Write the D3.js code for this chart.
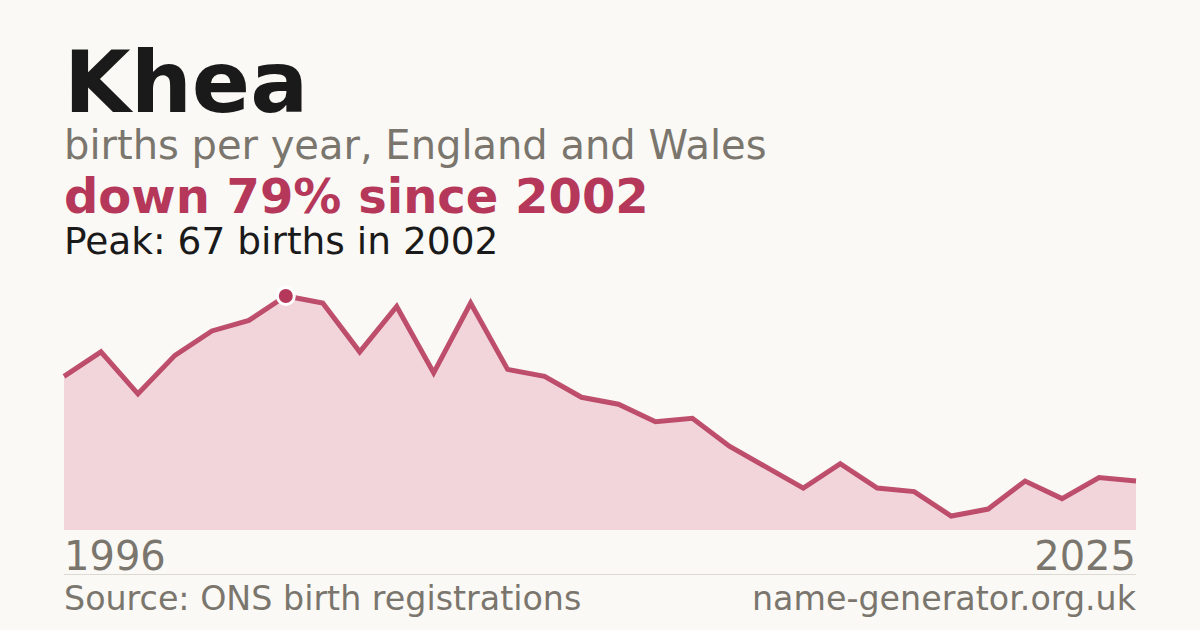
<!DOCTYPE html>
<html><head><meta charset="utf-8">
<script src="https://cdn.jsdelivr.net/npm/d3@7"></script>
<style>html,body{margin:0;padding:0;background:#faf9f5;}svg{display:block;}</style>
</head><body>
<script>
const years = [1996,1997,1998,1999,2000,2001,2002,2003,2004,2005,2006,2007,2008,2009,2010,2011,2012,2013,2014,2015,2016,2017,2018,2019,2020,2021,2022,2023,2024,2025];
const births = [44,51,39,50,57,60,67,65,51,64,45,65,46,44,38,36,31,32,24,18,12,19,12,11,4,6,14,9,15,14];
const titleText = "Khea";
const subtitleText = "births per year, England and Wales";
const changeText = "down 79% since 2002";
const peakText = "Peak: 67 births in 2002";
const sourceText = "Source: ONS birth registrations";
const siteText = "name-generator.org.uk";

const W = 1200, H = 630;
const font = "DejaVu Sans, sans-serif";
const svg = d3.select("body").append("svg").attr("width", W).attr("height", H);
svg.append("rect").attr("width", W).attr("height", H).attr("fill", "#faf9f5");

const data = years.map((y,i)=>({year:y, v:births[i]}));
const x = d3.scaleLinear().domain([years[0], years[years.length-1]]).range([64, 1136]);
const y = d3.scaleLinear().domain([0, d3.max(births)]).range([530, 296]);

svg.append("path").datum(data)
  .attr("d", d3.area().x(d=>x(d.year)).y0(y(0)).y1(d=>y(d.v)))
  .attr("fill", "#f2d5da");
svg.append("path").datum(data)
  .attr("d", d3.line().x(d=>x(d.year)).y(d=>y(d.v)))
  .attr("fill", "none").attr("stroke", "#b5385a").attr("stroke-width", 5)
  .attr("stroke-opacity", 0.88).attr("stroke-linejoin", "miter");

const peak = data.reduce((a,b)=>b.v>a.v?b:a);
svg.append("circle").attr("cx", x(peak.year)).attr("cy", y(peak.v)).attr("r", 10).attr("fill", "#ffffff");
svg.append("circle").attr("cx", x(peak.year)).attr("cy", y(peak.v)).attr("r", 7).attr("fill", "#b5385a");

svg.append("text").attr("x", 64).attr("y", 112).attr("font-family", font).attr("font-weight", "bold")
  .attr("font-size", 86).attr("fill", "#1a1a1a").text(titleText);
svg.append("text").attr("x", 64).attr("y", 159).attr("font-family", font)
  .attr("font-size", 40).attr("fill", "#7a766e").text(subtitleText);
svg.append("text").attr("x", 64).attr("y", 213).attr("font-family", font).attr("font-weight", "bold")
  .attr("font-size", 48).attr("fill", "#b5385a").text(changeText);
svg.append("text").attr("x", 64).attr("y", 254).attr("font-family", font)
  .attr("font-size", 37.5).attr("fill", "#1a1a1a").text(peakText);

svg.append("text").attr("x", 64).attr("y", 570).attr("font-family", font)
  .attr("font-size", 40).attr("fill", "#7a766e").text(String(years[0]));
svg.append("text").attr("x", 1136).attr("y", 570).attr("text-anchor", "end").attr("font-family", font)
  .attr("font-size", 40).attr("fill", "#7a766e").text(String(years[years.length-1]));

svg.append("line").attr("x1", 64).attr("x2", 1136).attr("y1", 574.5).attr("y2", 574.5)
  .attr("stroke", "#dcd9d2").attr("stroke-width", 1);

svg.append("text").attr("x", 64).attr("y", 610).attr("font-family", font)
  .attr("font-size", 33.3).attr("fill", "#7a766e").text(sourceText);
svg.append("text").attr("x", 1136).attr("y", 610).attr("text-anchor", "end").attr("font-family", font)
  .attr("font-size", 33.3).attr("fill", "#7a766e").text(siteText);
</script>
</body></html>
